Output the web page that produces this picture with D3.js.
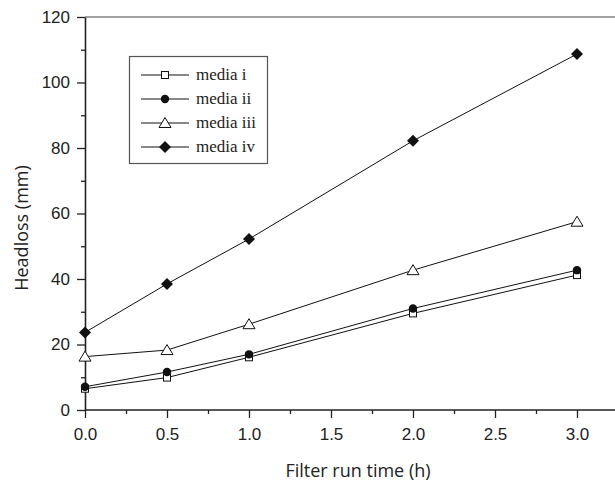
<!DOCTYPE html>
<html>
<head>
<meta charset="utf-8">
<script src="https://cdn.jsdelivr.net/npm/d3@7"></script>
<style>
  body { margin: 0; background: #fff; }
  svg { display: block; }
  .tick text { font-family: "Liberation Sans", Arial, sans-serif; font-size: 17px; fill: #222; }
  .title { font-family: "Open Sans", "Noto Sans", sans-serif; font-size: 18px; fill: #222; }
  .legend text { font-family: "Liberation Serif", "Times New Roman", serif; font-size: 17px; fill: #222; }
</style>
</head>
<body>
<div id="chart"></div>
<script>
'use strict';

// data
const time = [0, 0.5, 1, 2, 3];
const mediaI = [6.5, 9.9, 16.1, 29.5, 41.2];
const mediaII = [7.1, 11.6, 17.0, 31.0, 42.7];
const mediaIII = [16.3, 18.3, 26.2, 42.7, 57.5];
const mediaIV = [23.7, 38.5, 52.2, 82.2, 108.7];
const seriesNames = ['media i', 'media ii', 'media iii', 'media iv'];
const xTicks = [0, 0.5, 1, 1.5, 2, 2.5, 3];
const yTicks = [0, 20, 40, 60, 80, 100, 120];

const W = 615, H = 482;

const svg = d3.select('#chart')
    .append('svg')
    .attr('width', W)
    .attr('height', H);

const x = d3.scaleLinear().domain([0, 3.25]).range([85, 618]);
const y = d3.scaleLinear().domain([0, 120]).range([410, 17]);

const series = [mediaI, mediaII, mediaIII, mediaIV].map((vals, i) => ({
    name: seriesNames[i],
    shape: i,
    points: vals.map((v, j) => ({t: time[j], v}))
}));

// top frame line
svg.append('line')
    .attr('x1', x(0)).attr('x2', W)
    .attr('y1', y(120)).attr('y2', y(120))
    .attr('stroke', '#444').attr('stroke-width', 1.2);

// minor ticks
svg.append('g')
    .attr('transform', `translate(0,${y(0)})`)
    .call(d3.axisBottom(x).tickValues(d3.range(0.25, 3.3, 0.5)).tickSize(4).tickFormat(''))
    .call(g => g.select('.domain').remove())
    .selectAll('line').attr('stroke', '#222').attr('stroke-width', 1.3);

svg.append('g')
    .attr('transform', `translate(${x(0)},0)`)
    .call(d3.axisLeft(y).tickValues(d3.range(10, 120, 20)).tickSize(4).tickFormat(''))
    .call(g => g.select('.domain').remove())
    .selectAll('line').attr('stroke', '#222').attr('stroke-width', 1.3);

// major axes
const xAxis = svg.append('g')
    .attr('transform', `translate(0,${y(0)})`)
    .call(d3.axisBottom(x).tickValues(xTicks).tickSize(8).tickSizeOuter(0).tickPadding(10).tickFormat(d3.format('.1f')));
xAxis.select('.domain').attr('stroke', '#222').attr('stroke-width', 1.6)
    .attr('d', `M${x(0)},0H${W}`);
xAxis.selectAll('line').attr('stroke', '#222').attr('stroke-width', 1.3);

const yAxis = svg.append('g')
    .attr('transform', `translate(${x(0)},0)`)
    .call(d3.axisLeft(y).tickValues(yTicks).tickSize(8).tickSizeOuter(0).tickPadding(7));
yAxis.select('.domain').attr('stroke', '#222').attr('stroke-width', 1.6);
yAxis.selectAll('line').attr('stroke', '#222').attr('stroke-width', 1.3);

// axis titles
svg.append('text')
    .attr('class', 'title')
    .attr('x', 358).attr('y', 477)
    .attr('text-anchor', 'middle')
    .text('Filter run time (h)');

svg.append('text')
    .attr('class', 'title')
    .attr('transform', 'translate(28,228) rotate(-90)')
    .attr('text-anchor', 'middle')
    .text('Headloss (mm)');

// marker shapes
function marker(sel, shape) {
    if (shape === 0) {
        sel.append('rect')
            .attr('x', -3.5).attr('y', -3.5).attr('width', 7).attr('height', 7)
            .attr('fill', '#fff').attr('stroke', '#111').attr('stroke-width', 1);
    } else if (shape === 1) {
        sel.append('circle').attr('r', 4.2).attr('fill', '#111');
    } else if (shape === 2) {
        sel.append('path').attr('d', 'M0,-5.5L6,4.5L-6,4.5Z')
            .attr('fill', '#fff').attr('stroke', '#111').attr('stroke-width', 1);
    } else {
        sel.append('path').attr('d', 'M0,-6L6,0L0,6L-6,0Z').attr('fill', '#111');
    }
}

const line = d3.line().x(d => x(d.t)).y(d => y(d.v));

series.forEach(s => {
    svg.append('path')
        .datum(s.points)
        .attr('d', line)
        .attr('fill', 'none')
        .attr('stroke', '#111')
        .attr('stroke-width', 1);
});

series.forEach(s => {
    svg.append('g')
        .selectAll('g')
        .data(s.points)
        .join('g')
        .attr('transform', d => `translate(${x(d.t)},${y(d.v)})`)
        .each(function() { marker(d3.select(this), s.shape); });
});

// legend
const legend = svg.append('g').attr('class', 'legend');
legend.append('rect')
    .attr('x', 129.5).attr('y', 56.5).attr('width', 138).attr('height', 107)
    .attr('fill', '#fff').attr('stroke', '#555').attr('stroke-width', 1.2);

const rows = legend.selectAll('g.row')
    .data(series)
    .join('g')
    .attr('class', 'row')
    .attr('transform', (d, i) => `translate(0,${75 + i * 24})`);

rows.append('line')
    .attr('x1', 141).attr('x2', 189)
    .attr('stroke', '#111').attr('stroke-width', 1);
rows.each(function(d) {
    marker(d3.select(this).append('g').attr('transform', 'translate(165,0)'), d.shape);
});
rows.append('text')
    .attr('x', 196).attr('y', 5)
    .text(d => d.name);
</script>
</body>
</html>
